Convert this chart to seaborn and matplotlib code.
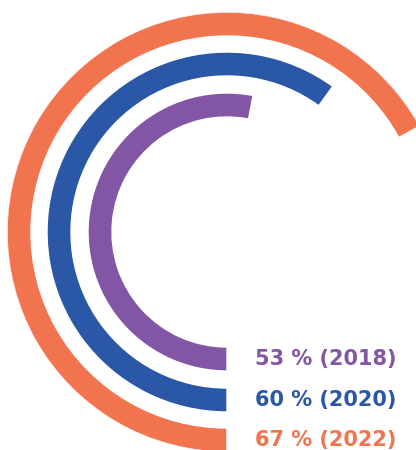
import numpy as np
import pandas as pd
import matplotlib
matplotlib.use("Agg")
import matplotlib.pyplot as plt
import seaborn as sns

# Share of respondents per survey year
years = ["2018", "2020", "2022"]
shares = [53, 60, 67]
colors = ["#8255A5", "#2B58A6", "#F2744F"]

# ring radius of each year's band (axis units = pixels of the ring layout)
rings = [127, 168, 208]

df = pd.DataFrame({
    "year": years,
    "share": shares,
    "theta": [s / 100 * 2 * np.pi for s in shares],
    "ring": rings,
})

sns.set_theme(style="white")
plt.rcParams["font.family"] = ["DejaVu Sans"]

W, H = 416, 450
fig = plt.figure(figsize=(W / 100, H / 100), dpi=100)
cx, cy, R = 227, 218, 220
ax = fig.add_axes([(cx - R) / W, (cy - R) / H, 2 * R / W, 2 * R / H], projection="polar")
ax.set_theta_zero_location("S")
ax.set_theta_direction(-1)

sns.barplot(data=df, x="theta", y="ring", hue="year", palette=colors,
            orient="h", native_scale=True, width=0.6, legend=False,
            dodge=False, saturation=1, ax=ax)

ax.set_rlim(0, R)
ax.set_thetalim(0, 2 * np.pi)
ax.grid(False)
ax.set_xticks([])
ax.set_yticks([])
ax.set_xlabel("")
ax.set_ylabel("")
ax.spines["polar"].set_visible(False)
ax.patch.set_alpha(0)

for yr, s, r, c in zip(years, shares, rings, colors):
    ax.annotate(f"{s} % ({yr})", xy=(0, r), xytext=(28, 0),
                textcoords="offset pixels", ha="left", va="center",
                fontsize=15, fontweight="bold", color=c)

fig.savefig("out.png", dpi=100)
